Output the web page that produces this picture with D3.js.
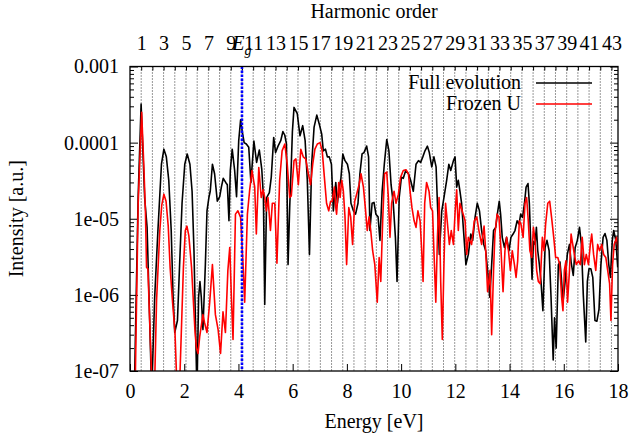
<!DOCTYPE html>
<html>
<head>
<meta charset="utf-8">
<script src="https://cdn.jsdelivr.net/npm/d3@7"></script>
<style>
  body { margin: 0; background: #fff; }
  text { font-family: "Liberation Serif", "Times New Roman", serif; font-size: 20px; fill: #000; }
</style>
</head>
<body>
<svg id="chart" width="631" height="440"></svg>
<script>
// values
var energyFull = [0.05,0.17,0.30,0.41,0.54,0.63,0.72,0.80,0.91,1.03,1.16,1.25,1.34,1.43,1.52,1.59,1.65,1.75,1.83,1.92,
  2.02,2.11,2.21,2.29,2.36,2.42,2.47,2.53,2.58,2.63,2.69,2.78,2.84,2.91,2.96,3.04,3.12,3.22,3.31,3.37,
  3.44,3.53,3.59,3.65,3.70,3.77,3.86,3.93,4.01,4.08,4.14,4.21,4.29,4.38,4.46,4.57,4.67,4.77,4.86,4.92,
  4.97,5.04,5.14,5.21,5.30,5.37,5.46,5.56,5.64,5.71,5.77,5.83,5.89,5.95,5.99,6.05,6.17,6.27,6.37,6.46,
  6.54,6.62,6.70,6.79,6.89,6.98,7.07,7.13,7.21,7.28,7.35,7.43,7.50,7.59,7.65,7.72,7.78,7.85,7.93,8.02,
  8.09,8.15,8.24,8.32,8.41,8.48,8.56,8.63,8.73,8.80,8.85,8.93,9.00,9.07,9.15,9.22,9.30,9.38,9.47,9.55,
  9.63,9.71,9.79,9.85,9.93,10.01,10.08,10.17,10.27,10.35,10.45,10.55,10.64,10.72,10.80,10.88,10.97,11.04,11.13,11.21,
  11.29,11.34,11.41,11.50,11.58,11.68,11.76,11.83,11.93,11.99,12.05,12.11,12.17,12.23,12.32,12.39,12.48,12.57,12.64,12.73,
  12.81,12.89,12.97,13.05,13.12,13.19,13.27,13.34,13.41,13.49,13.55,13.62,13.67,13.73,13.81,13.89,13.98,14.05,14.13,14.20,
  14.28,14.35,14.41,14.48,14.55,14.61,14.68,14.73,14.78,14.83,14.88,14.94,14.99,15.04,15.10,15.16,15.23,15.31,15.38,15.46,
  15.53,15.61,15.66,15.72,15.80,15.86,15.91,15.97,16.05,16.13,16.21,16.27,16.35,16.42,16.50,16.58,16.65,16.72,16.81,16.87,
  16.93,17.00,17.07,17.15,17.22,17.30,17.37,17.45,17.52,17.59,17.66,17.72,17.79,17.84,17.92,17.99];
var intensityFull = [3e-8,8e-8,1.9e-5,3.2e-4,1.9e-5,7.7e-6,5.5e-7,5e-8,9.3e-7,7e-6,5.2e-5,8.2e-5,6.5e-5,3.2e-5,7e-6,9.3e-7,3.2e-7,4.6e-7,2.5e-6,1.6e-5,
  5.2e-5,7.1e-5,5.2e-5,2.3e-5,3.8e-6,3.5e-7,5e-8,9.3e-7,1.5e-6,9.3e-7,3.5e-7,2.5e-6,1.27e-5,1.9e-5,2.3e-5,5.2e-5,3.9e-5,1.7e-5,1.95e-5,2.6e-5,
  3.4e-5,3e-5,2.8e-5,9.4e-6,4.3e-5,8.2e-5,4.3e-5,1.95e-5,1.06e-4,2e-4,1.4e-4,1e-4,9.6e-5,8.7e-5,3e-5,1.05e-4,5.5e-5,8e-5,4.5e-5,2e-5,
  7.5e-7,1.9e-5,2.2e-5,3.5e-5,1.17e-4,7.4e-5,9e-5,1.06e-4,1.4e-4,1.25e-4,9.6e-5,2.5e-6,1.4e-5,5.2e-5,1.4e-4,2.9e-4,2.4e-4,1.23e-4,1.67e-4,1.06e-4,
  3.2e-5,3.4e-6,5.2e-5,1.6e-4,2.3e-4,1.76e-4,1.3e-4,7.8e-5,8.2e-5,6.5e-5,6.5e-5,5.2e-5,1.27e-5,3e-5,1.6e-5,2.6e-5,3.4e-5,7.1e-5,5.8e-5,5.2e-5,
  3.9e-5,1.6e-5,1.27e-5,1.15e-5,1.6e-5,3.9e-5,7.1e-5,7.4e-5,9e-5,6.5e-5,7e-6,1.6e-5,1.64e-5,1.15e-5,1.06e-5,5.2e-6,2.3e-5,5.2e-5,1.1e-4,7.8e-5,
  2.8e-5,1.6e-5,5.7e-6,1.5e-6,1.9e-5,3.5e-5,3.4e-5,4.3e-5,3.9e-5,3.2e-5,2.3e-5,5.2e-5,5.8e-5,5.5e-5,6.5e-5,7.8e-5,9e-5,7.4e-5,4.8e-5,6.5e-5,
  4.8e-5,1.6e-5,3.4e-6,1.27e-5,1.9e-5,3.2e-5,5.2e-5,4.3e-5,5.8e-5,6.5e-5,2.6e-5,3.2e-5,2.3e-5,1.6e-5,5.7e-6,2.5e-6,3.4e-6,6.3e-6,5.2e-6,1.06e-5,
  1.6e-5,1.27e-5,7e-6,4.6e-6,3.8e-6,2.1e-6,9.3e-7,2.5e-6,7e-6,7.7e-6,1.15e-5,1.7e-5,1.15e-5,5.7e-6,4.2e-6,5.7e-6,3.8e-6,5.7e-6,6.3e-6,7e-6,
  9.4e-6,8.5e-6,1.15e-5,1.04e-5,1.6e-5,2.6e-5,2.9e-5,1.6e-5,5e-6,1.6e-6,5e-6,4.6e-6,7.7e-6,3.8e-6,2.5e-6,1.5e-6,6.2e-7,4.2e-6,5.2e-6,3.8e-6,
  9.3e-7,1.4e-7,5e-7,2e-7,2.5e-6,2.7e-6,1.7e-6,8e-7,1.5e-6,3.4e-6,4.6e-6,2.7e-6,1.8e-6,4.2e-6,5.2e-6,7.7e-6,4.6e-6,1e-6,2.4e-7,1.5e-6,
  2.2e-6,2.2e-6,1.7e-6,4.6e-7,4.5e-7,6.5e-7,2.5e-6,5.7e-6,6.4e-6,5.2e-6,2.5e-6,1.7e-6,5.2e-6,7e-6,5.2e-6,2.3e-6];

var energyFrozen = [0.10,0.20,0.30,0.43,0.51,0.57,0.61,0.66,0.74,0.82,0.90,0.98,1.10,1.17,1.25,1.33,1.41,1.48,1.57,1.66,
  1.74,1.82,1.97,2.04,2.10,2.17,2.27,2.40,2.45,2.51,2.57,2.69,2.75,2.84,2.94,3.04,3.15,3.25,3.34,3.43,
  3.52,3.61,3.68,3.74,3.80,3.89,3.98,4.08,4.17,4.23,4.33,4.41,4.50,4.60,4.66,4.75,4.84,4.91,4.97,5.03,
  5.09,5.18,5.25,5.34,5.42,5.52,5.61,5.71,5.80,5.89,5.95,6.05,6.12,6.21,6.30,6.39,6.48,6.58,6.66,6.74,
  6.82,6.91,7.01,7.09,7.17,7.25,7.33,7.40,7.46,7.54,7.59,7.62,7.70,7.75,7.81,7.87,7.93,7.99,8.07,8.14,
  8.21,8.29,8.36,8.45,8.52,8.61,8.68,8.75,8.82,8.88,8.95,9.03,9.07,9.12,9.19,9.25,9.32,9.39,9.47,9.53,
  9.59,9.65,9.74,9.81,9.90,9.98,10.08,10.18,10.27,10.33,10.40,10.48,10.55,10.62,10.70,10.76,10.81,10.87,10.94,11.03,
  11.09,11.16,11.21,11.28,11.34,11.40,11.46,11.52,11.58,11.64,11.70,11.78,11.85,11.93,11.99,12.05,12.11,12.17,12.36,12.42,
  12.48,12.60,12.70,12.79,12.87,12.97,13.06,13.12,13.19,13.28,13.34,13.41,13.46,13.54,13.61,13.68,13.76,13.83,13.89,13.96,
  14.03,14.10,14.18,14.24,14.30,14.36,14.42,14.50,14.57,14.63,14.69,14.75,14.82,14.88,14.94,15.00,15.06,15.13,15.21,15.27,
  15.33,15.41,15.48,15.55,15.63,15.70,15.78,15.85,15.92,15.97,16.02,16.08,16.14,16.21,16.27,16.33,16.39,16.46,16.54,16.61,
  16.68,16.76,16.83,16.91,16.98,17.03,17.10,17.18,17.25,17.32,17.40,17.47,17.55,17.62,17.69,17.74,17.80,17.86,17.95,18.01];
var intensityFrozen = [5e-8,1e-7,1.5e-5,2.5e-4,5e-5,1.2e-5,2.3e-6,2.2e-6,3.3e-7,5e-8,5e-8,8.5e-7,7e-6,1.5e-5,2.1e-5,1.7e-5,8e-6,2.3e-6,8e-7,3.2e-7,
  5e-8,5e-8,2.3e-6,7e-6,8e-6,6e-6,2.3e-6,3.2e-7,2e-7,1.7e-7,2.8e-7,5.5e-7,4.3e-7,3.2e-7,8e-7,2.5e-6,5.5e-7,3.5e-7,1.7e-7,6e-7,
  3.2e-7,2.1e-6,4.2e-6,9.3e-7,2.6e-7,1.15e-5,1.27e-5,1.04e-5,2.5e-6,8e-7,1.15e-5,2.3e-5,4.3e-5,2.6e-5,6.3e-6,4.7e-5,1.9e-5,2.4e-5,1.9e-5,1.27e-5,
  1.9e-5,7e-6,1.6e-5,1.6e-5,2.6e-6,3.2e-5,7.8e-5,9.6e-5,5.2e-5,1.9e-5,2e-5,5.8e-5,6.1e-5,2.8e-5,8.2e-5,6.5e-5,6.1e-5,3.9e-5,2.8e-5,5.2e-5,
  8.2e-5,9.6e-5,1e-4,7.8e-5,3.5e-5,1.6e-5,1.27e-5,1.7e-5,1.7e-5,2.6e-5,1.4e-5,1.15e-5,3e-5,1.9e-5,3.2e-5,2.3e-5,1.06e-5,2.5e-6,1.4e-5,1.06e-5,
  4.6e-6,1.7e-5,2.1e-5,2.8e-5,3.9e-5,2.6e-5,1.4e-5,7e-6,1.06e-5,7e-6,3.8e-6,2.5e-6,1.5e-6,8e-7,3.1e-6,1.5e-6,9.4e-6,3.9e-5,4.1e-5,1.9e-5,
  5.7e-6,1.6e-5,2.3e-5,1.6e-5,2.1e-5,3.5e-5,4.3e-5,4.4e-5,3.9e-5,2.3e-5,1.4e-5,9.4e-6,7.7e-6,1.27e-5,9.4e-6,3.8e-6,1.5e-6,1.6e-5,3e-5,2.3e-5,
  1.4e-5,1.27e-5,3.8e-6,8e-7,5.7e-6,1.9e-5,1.5e-6,2.6e-7,2.5e-6,1.6e-5,9.4e-6,4.6e-6,7e-6,4.6e-6,1.2e-5,2.4e-5,7e-6,1.6e-5,9.4e-6,3.4e-6,
  5.7e-6,4.6e-6,9.4e-6,1.06e-5,7e-6,4.6e-6,8e-6,3.8e-6,1.1e-6,2.1e-6,3e-7,2.1e-6,6.3e-6,1.15e-5,1.04e-5,4.2e-6,1.1e-6,3.8e-6,5.7e-6,3.8e-6,
  2.1e-6,3.8e-6,2.5e-6,1.7e-6,2.8e-6,9.4e-6,8.5e-6,5.7e-6,1.6e-5,1.9e-5,9.4e-6,3.8e-6,3.1e-6,7.7e-6,5.2e-6,2.1e-6,1.5e-6,1.4e-6,5.7e-6,3.8e-6,
  8.5e-6,1.6e-5,1.7e-5,1.04e-5,5.7e-6,3.1e-6,3.1e-6,2.5e-6,9.3e-7,6.2e-7,2.1e-6,2.8e-6,8e-7,2.1e-6,6.3e-6,4.6e-6,3.4e-6,2.5e-6,2.8e-6,2.5e-6,
  5.7e-6,2.5e-6,3.4e-6,2.5e-6,4.6e-6,6.3e-6,3.4e-6,2.1e-6,4.6e-6,3.8e-6,4.6e-6,3.4e-6,3.1e-6,2.1e-6,1.4e-6,4.6e-7,2.5e-6,4.6e-6,5.7e-6,3.8e-6];

var xTickValues = [0, 2, 4, 6, 8, 10, 12, 14, 16, 18];
var yTickValues = [1e-7, 1e-6, 1e-5, 1e-4, 1e-3];
var yTickLabels = ["1e-07", "1e-06", "1e-05", "0.0001", "0.001"];
var harmonicOrders = [1,2,3,4,5,6,7,8,9,10,11,12,13,14,15,16,17,18,19,20,21,22,23,24,25,26,27,28,29,30,31,32,33,34,35,36,37,38,39,40,41,42,43];
var harmonicLabels = [1,3,5,7,9,11,13,15,17,19,21,23,25,27,29,31,33,35,37,39,41,43];
var photonEnergy = 0.413; // eV per harmonic order
var gapEnergy = 4.13;     // Eg
var seriesNames = ["Full evolution", "Frozen U"];
var seriesColors = ["#000000", "#ff0000"];

var svg = d3.select("#chart");
var plotL = 130, plotR = 618, plotT = 66.5, plotB = 371;

var x = d3.scaleLinear().domain([0, 18]).range([plotL, plotR]);
var h = d3.scaleLinear().domain([0, 18 / photonEnergy]).range([plotL, plotR]);
var y = d3.scaleLog().domain([1e-7, 1e-3]).range([plotB, plotT]);

svg.append("defs").append("clipPath").attr("id", "plotclip")
  .append("rect").attr("x", plotL).attr("y", plotT).attr("width", plotR - plotL).attr("height", plotB - plotT);

// dotted grid at every harmonic
svg.append("g").selectAll("line").data(harmonicOrders).enter().append("line")
  .attr("x1", function(d) { return h(d); }).attr("x2", function(d) { return h(d); })
  .attr("y1", plotT).attr("y2", plotB)
  .attr("stroke", "#333").attr("stroke-width", 1).attr("stroke-dasharray", "1,2");

// minor log ticks
var minor = [];
yTickValues.slice(0, 4).forEach(function(dec) {
  for (var k = 2; k <= 9; k++) minor.push(dec * k);
});

svg.append("g").attr("transform", "translate(" + plotL + ",0)")
  .call(d3.axisLeft(y).tickValues(minor).tickSize(-4).tickFormat(""))
  .call(function(g) { g.select(".domain").remove(); });
svg.append("g").attr("transform", "translate(" + plotR + ",0)")
  .call(d3.axisRight(y).tickValues(minor).tickSize(-4).tickFormat(""))
  .call(function(g) { g.select(".domain").remove(); });

var yAxis = svg.append("g").attr("transform", "translate(" + plotL + ",0)")
  .call(d3.axisLeft(y).tickValues(yTickValues).tickSize(-8).tickPadding(11)
    .tickFormat(function(d, i) { return yTickLabels[i]; }));
yAxis.select(".domain").remove();
svg.append("g").attr("transform", "translate(" + plotR + ",0)")
  .call(d3.axisRight(y).tickValues(yTickValues).tickSize(-8).tickFormat(""))
  .call(function(g) { g.select(".domain").remove(); });

var xAxis = svg.append("g").attr("transform", "translate(0," + plotB + ")")
  .call(d3.axisBottom(x).tickValues(xTickValues).tickSize(-7).tickPadding(13).tickFormat(d3.format("d")));
xAxis.select(".domain").remove();

var topAxis = svg.append("g").attr("transform", "translate(0," + plotT + ")")
  .call(d3.axisTop(h).tickValues(harmonicOrders).tickSize(-4).tickPadding(16.5)
    .tickFormat(function(d) { return harmonicLabels.indexOf(d) >= 0 ? d : ""; }));
topAxis.select(".domain").remove();

svg.selectAll(".tick line").attr("stroke", "#000");
svg.selectAll(".tick text").style("font-family", "Liberation Serif").style("font-size", "20px");

// curves
var line = d3.line().x(function(d) { return x(d[0]); }).y(function(d) { return y(d[1]); });
var curves = svg.append("g").attr("clip-path", "url(#plotclip)");
var full = d3.zip(energyFull, intensityFull);
var frozen = d3.zip(energyFrozen, intensityFrozen);
[full, frozen].forEach(function(data, i) {
  curves.append("path").datum(data)
    .attr("d", line)
    .attr("fill", "none")
    .attr("stroke", seriesColors[i])
    .attr("stroke-width", 1.6)
    .attr("stroke-linejoin", "round");
});

// band gap marker
svg.append("line")
  .attr("x1", x(gapEnergy)).attr("x2", x(gapEnergy))
  .attr("y1", plotT).attr("y2", plotB)
  .attr("stroke", "#0000ff").attr("stroke-width", 2.6).attr("stroke-dasharray", "2.5,1.5");

var eg = svg.append("text").attr("x", x(gapEnergy)).attr("y", 50).attr("text-anchor", "middle");
eg.append("tspan").style("font-style", "italic").text("E");
eg.append("tspan").attr("dy", 5).style("font-style", "italic").style("font-size", "14px").text("g");

// frame
svg.append("rect").attr("x", plotL).attr("y", plotT).attr("width", plotR - plotL).attr("height", plotB - plotT)
  .attr("fill", "none").attr("stroke", "#000").attr("stroke-width", 1.3);

// legend
seriesNames.forEach(function(name, i) {
  var ly = 83 + i * 21;
  svg.append("text").attr("x", 521).attr("y", ly + 5.5).attr("text-anchor", "end").text(name);
  svg.append("line").attr("x1", 536).attr("x2", 592).attr("y1", ly).attr("y2", ly)
    .attr("stroke", seriesColors[i]).attr("stroke-width", 1.6);
});

// titles
svg.append("text").attr("x", (plotL + plotR) / 2).attr("y", 18).attr("text-anchor", "middle").text("Harmonic order");
svg.append("text").attr("x", (plotL + plotR) / 2).attr("y", 428).attr("text-anchor", "middle").text("Energy [eV]");
svg.append("text").attr("transform", "translate(23," + ((plotT + plotB) / 2) + ") rotate(-90)")
  .attr("text-anchor", "middle").text("Intensity [a.u.]");
</script>
</body>
</html>
